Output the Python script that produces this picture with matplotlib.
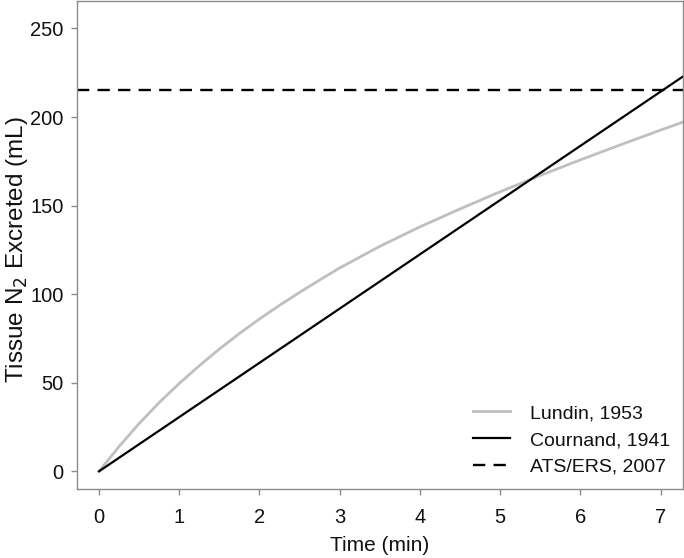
import matplotlib
matplotlib.use("Agg")
import matplotlib.pyplot as plt

# Data
lundin_t = [0, 0.25, 0.5, 0.75, 1.0, 1.25, 1.5, 1.75, 2.0, 2.25, 2.5, 2.75, 3.0,
            3.5, 4.0, 4.5, 5.0, 5.5, 6.0, 6.5, 7.0, 7.3]
lundin_v = [0, 14, 27, 38.8, 49.6, 59.6, 69, 77.8, 86, 93.7, 101, 108, 114.8,
            127, 138, 148.1, 157.8, 167, 175.8, 184.3, 192.6, 197.5]
cournand_t = [0, 7.3]
cournand_v = [0, 223.5]
ats_level = 215

xticks = [0, 1, 2, 3, 4, 5, 6, 7]
yticks = [0, 50, 100, 150, 200, 250]

plt.rcParams['font.family'] = ['Liberation Sans', 'DejaVu Sans']

fig = plt.figure(figsize=(6.84, 5.58), dpi=100)
ax = fig.add_axes([77/684, 1 - 489/558, 606/684, 488/558])

ax.plot(lundin_t, lundin_v, color='#bfbfbf', lw=2.0, label='Lundin, 1953')
ax.plot(cournand_t, cournand_v, color='black', lw=1.6, label='Cournand, 1941')
ax.axhline(ats_level, color='black', lw=1.7, dashes=(5.2, 3.5), label='ATS/ERS, 2007')

ax.set_xlim(-0.275, 7.28)
ax.set_ylim(-10, 265.5)
ax.set_xticks(xticks)
ax.set_yticks(yticks)

for s in ax.spines.values():
    s.set_color('#8c8c8c')
    s.set_linewidth(1.0)
ax.tick_params(axis='both', colors='#8c8c8c', labelcolor='#111111', length=4.5, width=1.0, labelsize=14.5)
ax.tick_params(axis='x', pad=9)
ax.tick_params(axis='y', pad=5)

ax.set_xlabel('Time (min)', fontsize=15, color='#111111', labelpad=7)
ax.set_ylabel('Tissue N$_2$ Excreted (mL)', fontsize=17.5, color='#111111')
ax.yaxis.set_label_coords(-0.078, 0.49)

leg = ax.legend(loc='lower right', frameon=False, fontsize=14, handlelength=1.9,
                handletextpad=1.0, labelspacing=0.48, borderaxespad=0.27)
for t in leg.get_texts():
    t.set_color('#111111')

fig.savefig('out.png', dpi=100)
